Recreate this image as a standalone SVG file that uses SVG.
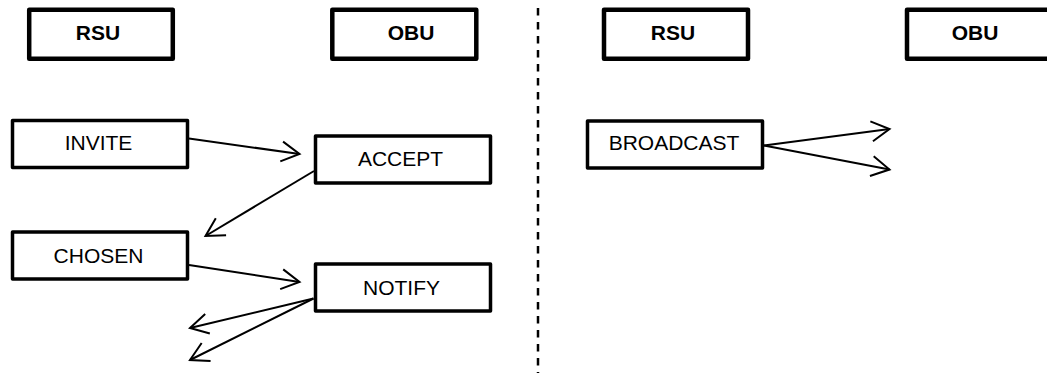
<svg xmlns="http://www.w3.org/2000/svg" width="1047" height="373" viewBox="0 0 1047 373">
  <style>
    .hdr rect { fill: #fff; stroke: #000; stroke-width: 4.5; stroke-linejoin: round; }
    .hdr text { font-family: "Liberation Sans", Arial, sans-serif; font-size: 21px; font-weight: bold; text-anchor: middle; fill: #000; }
    .msg rect { fill: #fff; stroke: #000; stroke-width: 3.5; stroke-linejoin: round; }
    .msg text { font-family: "Liberation Sans", Arial, sans-serif; font-size: 21px; text-anchor: middle; fill: #000; }
    #connectors line { stroke: #000; stroke-width: 2; fill: none; marker-end: url(#open-arrow); }
    #divider { stroke: #000; stroke-width: 2.5; stroke-dasharray: 7.5 6.5; }
  </style>
  <defs>
    <marker id="open-arrow" markerUnits="userSpaceOnUse" viewBox="-24 -14 28 28" markerWidth="28" markerHeight="28" refX="0" refY="0" orient="auto" overflow="visible">
      <path d="M-18,-10 L0,0 L-18,10" fill="none" stroke="#000" stroke-width="2" stroke-linejoin="miter"/>
    </marker>
  </defs>

  <rect width="1047" height="373" fill="#fff"/>

  <!-- left / right panel separator -->
  <line id="divider" x1="538" y1="8" x2="538" y2="373"/>

  <!-- left panel: headers -->
  <g id="rsu-left" class="hdr">
    <rect x="29.2" y="9.8" width="143.6" height="49"/>
    <text x="98" y="39.5">RSU</text>
  </g>
  <g id="obu-left" class="hdr">
    <rect x="332.3" y="9.8" width="144" height="49"/>
    <text x="411" y="39.5">OBU</text>
  </g>

  <!-- left panel: messages -->
  <g id="invite" class="msg">
    <rect x="12.5" y="120.5" width="175" height="47"/>
    <text x="98.5" y="150">INVITE</text>
  </g>
  <g id="accept" class="msg">
    <rect x="315.5" y="136" width="175" height="47"/>
    <text x="400.5" y="166">ACCEPT</text>
  </g>
  <g id="chosen" class="msg">
    <rect x="12.5" y="232" width="175" height="47"/>
    <text x="98.5" y="262.5">CHOSEN</text>
  </g>
  <g id="notify" class="msg">
    <rect x="315.5" y="264" width="175" height="47"/>
    <text x="401.5" y="295">NOTIFY</text>
  </g>

  <!-- right panel: headers -->
  <g id="rsu-right" class="hdr">
    <rect x="604" y="9.8" width="144" height="49"/>
    <text x="673" y="39.5">RSU</text>
  </g>
  <g id="obu-right" class="hdr">
    <rect x="907" y="9.8" width="150" height="49"/>
    <text x="975" y="39.5">OBU</text>
  </g>

  <!-- right panel: message -->
  <g id="broadcast" class="msg">
    <rect x="587.5" y="121" width="175" height="47"/>
    <text x="674" y="150">BROADCAST</text>
  </g>

  <g id="connectors">
    <line x1="189" y1="138.5" x2="299.5" y2="154"/>
    <line x1="314" y1="171" x2="205.5" y2="236"/>
    <line x1="189" y1="265" x2="299.5" y2="282"/>
    <line x1="313.5" y1="298.5" x2="190" y2="328"/>
    <line x1="313.5" y1="298.5" x2="190" y2="360"/>
    <line x1="764" y1="145.5" x2="889.5" y2="129"/>
    <line x1="764" y1="145.5" x2="889.5" y2="169.5"/>
  </g>
</svg>
